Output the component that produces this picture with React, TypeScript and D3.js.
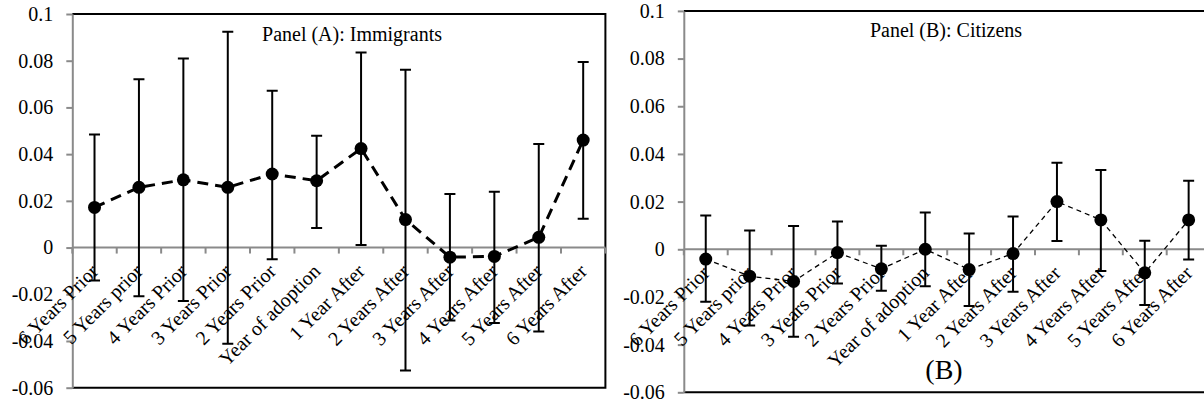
import React, { useEffect, useRef } from 'react'
import * as d3 from 'd3'

const categories = [
    '6 Years Prior',
    '5 Years prior',
    '4 Years Prior',
    '3 Years Prior',
    '2 Years Prior',
    'Year of adoption',
    '1 Year After',
    '2 Years After',
    '3 Years After',
    '4 Years After',
    '5 Years After',
    '6 Years After',
]

const yTicks = [-0.06, -0.04, -0.02, 0, 0.02, 0.04, 0.06, 0.08, 0.1]
const yTickLabels = ['-0.06', '-0.04', '-0.02', '0', '0.02', '0.04', '0.06', '0.08', '0.1']

// Panel (A): immigrants
const immigrantsEst = [0.0172, 0.0258, 0.029, 0.0258, 0.0315, 0.0286, 0.0424, 0.012, -0.0041, -0.0038, 0.0044, 0.046]
const immigrantsUpper = [0.0484, 0.0721, 0.081, 0.0924, 0.0671, 0.0479, 0.0835, 0.0761, 0.0229, 0.0239, 0.0443, 0.0795]
const immigrantsLower = [-0.0141, -0.0208, -0.0229, -0.0412, -0.005, 0.0084, 0.0011, -0.0526, -0.0312, -0.0323, -0.0359, 0.0123]

// Panel (B): citizens
const citizensEst = [-0.0041, -0.0113, -0.0135, -0.0014, -0.0082, 0.0, -0.0085, -0.0018, 0.02, 0.0123, -0.0099, 0.0123]
const citizensUpper = [0.0142, 0.0079, 0.0098, 0.0116, 0.0015, 0.0154, 0.0066, 0.0138, 0.0363, 0.0333, 0.0036, 0.0287]
const citizensLower = [-0.022, -0.032, -0.0367, -0.0144, -0.0174, -0.0155, -0.0238, -0.0178, 0.0035, -0.0091, -0.0234, -0.0043]

const FONT = '"Liberation Serif", "Times New Roman", serif'
const AXIS_GREY = '#8a8a8a'

interface Box {
    left: number
    right: number
    top: number
    bottom: number
}

interface PanelProps {
    title: string
    titleX: number
    titleY: number
    est: number[]
    upper: number[]
    lower: number[]
    box: Box
    lineWidth: number
    dash: string
}

const Panel: React.FC<PanelProps> = ({ title, titleX, titleY, est, upper, lower, box, lineWidth, dash }) => {
    const gRef = useRef<SVGGElement | null>(null)

    useEffect(() => {
        const g = d3.select(gRef.current)
        g.selectAll('*').remove()

        const x = d3.scaleBand<string>().domain(categories).range([box.left, box.right])
        const y = d3.scaleLinear().domain([-0.06, 0.1]).range([box.bottom, box.top])
        const cx = (i: number) => x(categories[i])! + x.bandwidth() / 2

        // plot area border, the left side is the grey axis
        g.append('path')
            .attr('d', `M${box.left},${box.top}H${box.right}V${box.bottom}H${box.left}`)
            .attr('fill', 'none')
            .attr('stroke', '#000')
            .attr('stroke-width', 2)

        // y axis
        const yAxis = g
            .append('g')
            .attr('transform', `translate(${box.left},0)`)
            .call(
                d3
                    .axisLeft(y)
                    .tickValues(yTicks)
                    .tickFormat((_, i) => yTickLabels[i])
                    .tickSize(6)
                    .tickSizeOuter(0)
                    .tickPadding(13)
            )
            .attr('font-family', FONT)
            .attr('font-size', 20)
        yAxis.select('.domain').attr('stroke', AXIS_GREY).attr('stroke-width', 2)
        yAxis.selectAll('.tick line').attr('stroke', AXIS_GREY).attr('stroke-width', 2)
        yAxis.selectAll('.tick text').attr('fill', '#000')

        // x axis at zero with ticks between categories
        const y0 = y(0)
        g.append('line')
            .attr('x1', box.left)
            .attr('x2', box.right)
            .attr('y1', y0)
            .attr('y2', y0)
            .attr('stroke', AXIS_GREY)
            .attr('stroke-width', 2)
        const bounds = categories.map((c) => x(c)!).concat([box.right])
        g.selectAll('line.xtick')
            .data(bounds)
            .join('line')
            .attr('class', 'xtick')
            .attr('x1', (d) => d)
            .attr('x2', (d) => d)
            .attr('y1', y0)
            .attr('y2', y0 + 6)
            .attr('stroke', AXIS_GREY)
            .attr('stroke-width', 2)

        // rotated category labels
        g.selectAll('text.xlabel')
            .data(categories)
            .join('text')
            .attr('class', 'xlabel')
            .attr('transform', (_, i) => `translate(${cx(i)},${y0 + 20}) rotate(-45)`)
            .attr('text-anchor', 'end')
            .attr('dy', '0.35em')
            .attr('font-family', FONT)
            .attr('font-size', 20)
            .text((d) => d)

        // error bars
        const bars = g.selectAll('g.err').data(est).join('g').attr('class', 'err')
        bars.append('line')
            .attr('x1', (_, i) => cx(i))
            .attr('x2', (_, i) => cx(i))
            .attr('y1', (_, i) => y(upper[i]))
            .attr('y2', (_, i) => y(lower[i]))
            .attr('stroke', '#000')
            .attr('stroke-width', 2)
        bars.append('path')
            .attr('d', (_, i) => `M${cx(i) - 5.5},${y(upper[i])}h11M${cx(i) - 5.5},${y(lower[i])}h11`)
            .attr('stroke', '#000')
            .attr('stroke-width', 2)

        // dashed line through estimates
        const line = d3
            .line<number>()
            .x((_, i) => cx(i))
            .y((d) => y(d))
        g.append('path')
            .attr('d', line(est))
            .attr('fill', 'none')
            .attr('stroke', '#000')
            .attr('stroke-width', lineWidth)
            .attr('stroke-dasharray', dash)

        // markers
        g.selectAll('circle')
            .data(est)
            .join('circle')
            .attr('cx', (_, i) => cx(i))
            .attr('cy', (d) => y(d))
            .attr('r', 6.5)
            .attr('fill', '#000')

        g.append('text')
            .attr('x', titleX)
            .attr('y', titleY)
            .attr('text-anchor', 'middle')
            .attr('font-family', FONT)
            .attr('font-size', 20)
            .text(title)
    }, [title, titleX, titleY, est, upper, lower, box, lineWidth, dash])

    return <g ref={gRef} />
}

export default function App() {
    return (
        <svg width={1204} height={406} style={{ position: 'absolute', left: 0, top: 0, background: '#fff' }}>
            <Panel
                title="Panel (A): Immigrants"
                titleX={352}
                titleY={41}
                est={immigrantsEst}
                upper={immigrantsUpper}
                lower={immigrantsLower}
                box={{ left: 72.3, right: 605.4, top: 14, bottom: 387.7 }}
                lineWidth={3}
                dash="11 7"
            />
            <Panel
                title="Panel (B): Citizens"
                titleX={946}
                titleY={37}
                est={citizensEst}
                upper={citizensUpper}
                lower={citizensLower}
                box={{ left: 683.8, right: 1210.6, top: 10.9, bottom: 392.3 }}
                lineWidth={1.3}
                dash="5 4"
            />
            <text x={944} y={379} textAnchor="middle" fontFamily={FONT} fontSize={28}>
                (B)
            </text>
        </svg>
    )
}
